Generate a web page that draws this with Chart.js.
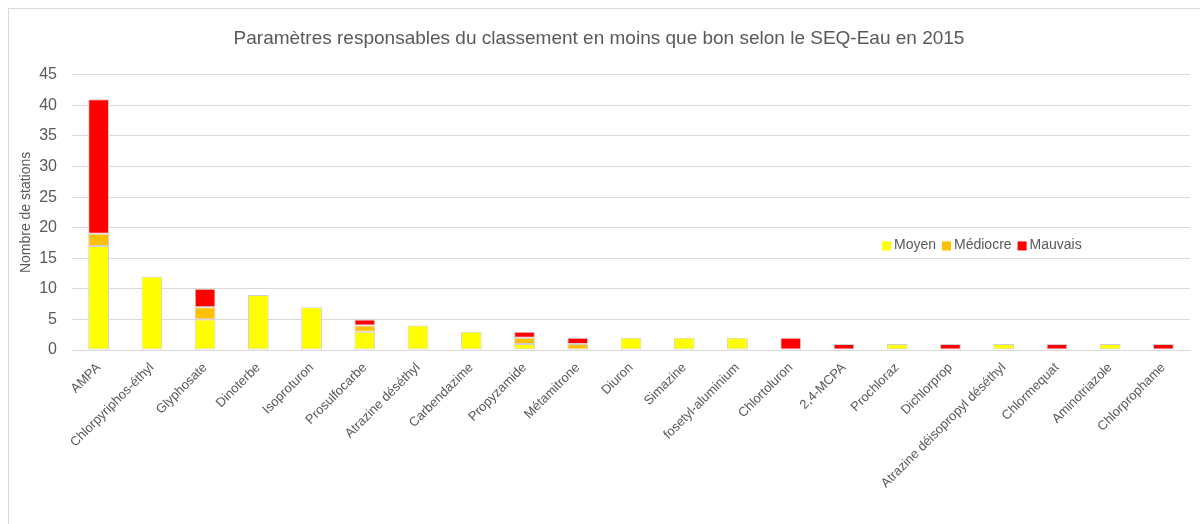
<!DOCTYPE html>
<html>
<head>
<meta charset="utf-8">
<script src="https://cdn.jsdelivr.net/npm/chart.js@4/dist/chart.umd.min.js"></script>
<style>
  html, body { margin: 0; padding: 0; background: #fff; }
  #wrap { width: 1200px; height: 524px; }
</style>
</head>
<body>
<div id="wrap"><canvas id="seqChart" width="1200" height="524"></canvas></div>
<script>
// Paramètres classés en moins que bon (SEQ-Eau 2015)
const categories = [
  "AMPA", "Chlorpyriphos-éthyl", "Glyphosate", "Dinoterbe", "Isoproturon",
  "Prosulfocarbe", "Atrazine déséthyl", "Carbendazime", "Propyzamide", "Métamitrone",
  "Diuron", "Simazine", "fosetyl-aluminium", "Chlortoluron", "2,4-MCPA",
  "Prochloraz", "Dichlorprop", "Atrazine déisopropyl déséthyl", "Chlormequat",
  "Aminotriazole", "Chlorprophame"
];
const moyen    = [17, 12, 5, 9, 7, 3, 4, 3, 1, 0, 2, 2, 2, 0, 0, 1, 0, 1, 0, 1, 0];
const mediocre = [2, 0, 2, 0, 0, 1, 0, 0, 1, 1, 0, 0, 0, 0, 0, 0, 0, 0, 0, 0, 0];
const mauvais  = [22, 0, 3, 0, 0, 1, 0, 0, 1, 1, 0, 0, 0, 2, 1, 0, 1, 0, 1, 0, 1];
const yTicks = [0, 5, 10, 15, 20, 25, 30, 35, 40, 45];

const FONT = "'Liberation Sans', Arial, sans-serif";
const TEXT = "#595959";

// cadre gris + légende dans la zone de tracé
const framePlugin = {
  id: "frame",
  beforeDraw(chart) {
    const ctx = chart.ctx;
    ctx.save();
    ctx.fillStyle = "#fff";
    ctx.fillRect(0, 0, chart.width, chart.height);
    ctx.strokeStyle = "#d9d9d9";
    ctx.lineWidth = 1;
    ctx.strokeRect(8.5, 8.5, chart.width + 20, chart.height + 20);
    ctx.restore();
  },
  afterDraw(chart) {
    const ctx = chart.ctx;
    const y = chart.scales.y.getPixelForValue(17.1);
    let x = 882;
    ctx.save();
    ctx.font = "14px " + FONT;
    ctx.textBaseline = "middle";
    chart.data.datasets.forEach(ds => {
      ctx.fillStyle = ds.backgroundColor;
      ctx.fillRect(x, y - 4, 9, 9);
      ctx.fillStyle = TEXT;
      ctx.fillText(ds.label, x + 12, y);
      x += 12 + ctx.measureText(ds.label).width + 6;
    });
    ctx.restore();
  }
};

const ctx = document.getElementById("seqChart").getContext("2d");
new Chart(ctx, {
  type: "bar",
  data: {
    labels: categories,
    datasets: [
      { label: "Moyen", data: moyen, backgroundColor: "#FFFF00" },
      { label: "Médiocre", data: mediocre, backgroundColor: "#FFC000" },
      { label: "Mauvais", data: mauvais, backgroundColor: "#FF0000" }
    ].map(d => Object.assign(d, {
      borderColor: "#d0d0d0",
      borderWidth: 1,
      borderSkipped: false,
      barPercentage: 0.39,
      categoryPercentage: 1
    }))
  },
  options: {
    responsive: false,
    animation: false,
    layout: { padding: { left: 8, right: 10, top: 0, bottom: 0 } },
    plugins: {
      legend: { display: false },
      tooltip: { enabled: false },
      title: {
        display: true,
        text: "Paramètres responsables du classement en moins que bon selon le SEQ-Eau en 2015",
        color: TEXT,
        font: { family: FONT, size: 19, weight: "normal" },
        padding: { top: 27, bottom: 25 }
      }
    },
    scales: {
      x: {
        stacked: true,
        grid: { display: false },
        border: { color: "#d9d9d9" },
        ticks: {
          color: TEXT,
          font: { family: FONT, size: 13 },
          minRotation: 45,
          maxRotation: 45,
          autoSkip: false,
          padding: 2
        },
        afterFit(scale) { scale.height = 174; }
      },
      y: {
        stacked: true,
        min: 0,
        max: 45,
        afterBuildTicks(scale) { scale.ticks = yTicks.map(v => ({ value: v })); },
        grid: { color: "#d9d9d9", drawTicks: false },
        border: { display: false },
        ticks: {
          color: TEXT,
          font: { family: FONT, size: 16 },
          padding: 15
        },
        title: {
          display: true,
          text: "Nombre de stations",
          color: TEXT,
          font: { family: FONT, size: 14 },
          padding: { top: 10, bottom: 0 }
        },
        afterFit(scale) { scale.width = 64; }
      }
    }
  },
  plugins: [framePlugin]
});
</script>
</body>
</html>
